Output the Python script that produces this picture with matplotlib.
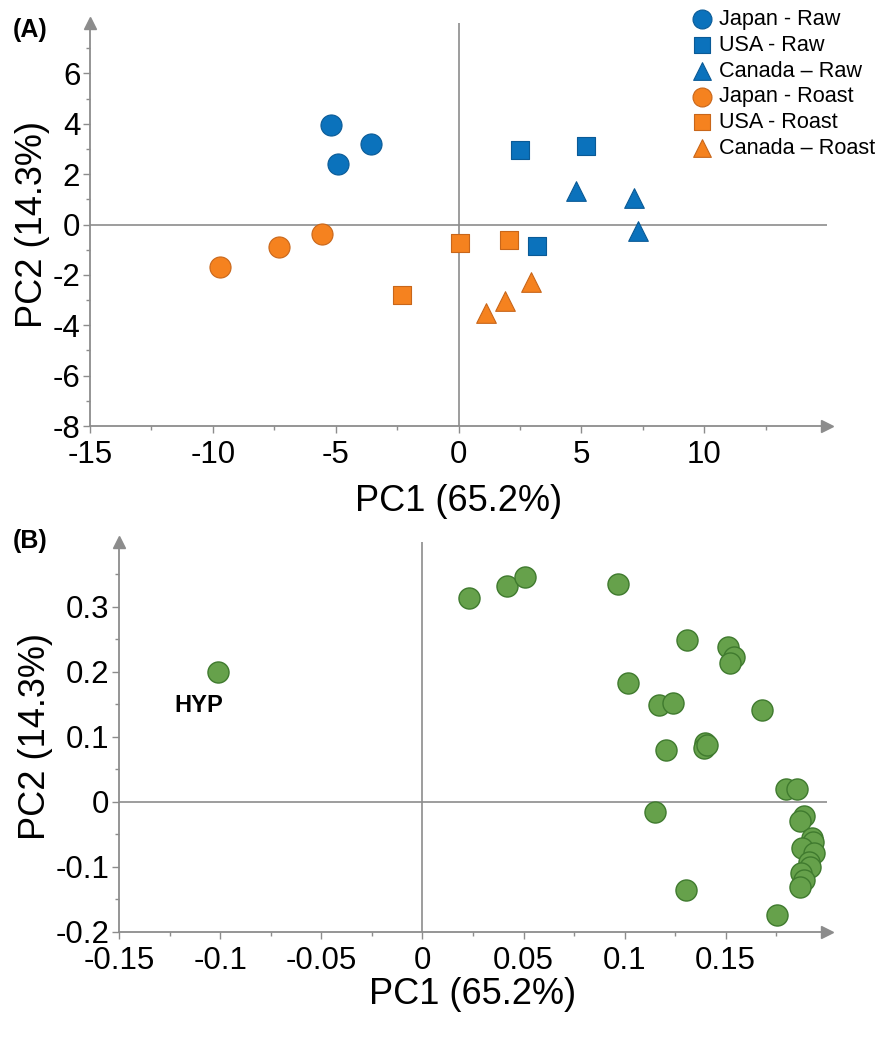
import numpy as np
import matplotlib.pyplot as plt
from matplotlib.ticker import FixedLocator

plt.rcParams['font.family'] = ['Liberation Sans', 'DejaVu Sans']
plt.rcParams['axes.unicode_minus'] = False

# PCA scores (panel A)
japan_raw_x = [-5.2, -4.9, -3.55]
japan_raw_y = [3.95, 2.4, 3.2]
usa_raw_x = [2.5, 5.2, 3.2]
usa_raw_y = [2.95, 3.1, -0.85]
canada_raw_x = [4.8, 7.13, 7.3]
canada_raw_y = [1.32, 1.06, -0.24]
japan_roast_x = [-9.7, -7.3, -5.55]
japan_roast_y = [-1.7, -0.9, -0.37]
usa_roast_x = [-2.3, 0.05, 2.05]
usa_roast_y = [-2.8, -0.73, -0.62]
canada_roast_x = [1.1, 1.91, 2.96]
canada_roast_y = [-3.5, -3.04, -2.29]

# PCA loadings (panel B)
load_x = [-0.101, 0.0232, 0.0417, 0.0506, 0.0965, 0.131, 0.1514, 0.154, 0.152,
          0.1015, 0.1168, 0.124, 0.168, 0.1204, 0.1397, 0.1393, 0.1406,
          0.18, 0.1854, 0.1151, 0.1887, 0.1866, 0.1925, 0.1932, 0.1876,
          0.1937, 0.1912, 0.1916, 0.1871, 0.1887, 0.1868, 0.1303, 0.1755]
load_y = [0.2, 0.314, 0.332, 0.345, 0.335, 0.249, 0.238, 0.222, 0.214,
          0.183, 0.149, 0.152, 0.141, 0.0795, 0.0908, 0.082, 0.088,
          0.019, 0.019, -0.016, -0.022, -0.030, -0.056, -0.062, -0.071,
          -0.079, -0.092, -0.101, -0.110, -0.121, -0.131, -0.136, -0.174]

BLUE = '#0B72BC'
BLUE_E = '#0A5A96'
ORANGE = '#F5821F'
ORANGE_E = '#C8661A'
GREEN = '#66A14B'
GREEN_E = '#3F7A2E'
GRAY = '#8C8C8C'

fig = plt.figure(figsize=(8.81, 10.41), dpi=100)
W, H = 881, 1041


def px_axes(l, r, t, b):
    return fig.add_axes([l / W, 1 - b / H, (r - l) / W, (b - t) / H])


def style_axes(ax, xmaj, xmin, ymaj, ymin):
    for s in ['top', 'right']:
        ax.spines[s].set_visible(False)
    for s in ['left', 'bottom']:
        ax.spines[s].set_color(GRAY)
        ax.spines[s].set_linewidth(1.3)
    ax.xaxis.set_major_locator(FixedLocator(xmaj))
    ax.xaxis.set_minor_locator(FixedLocator(xmin))
    ax.yaxis.set_major_locator(FixedLocator(ymaj))
    ax.yaxis.set_minor_locator(FixedLocator(ymin))
    ax.set_xticklabels([f'{v:g}' for v in xmaj])
    ax.set_yticklabels([f'{v:g}' for v in ymaj])
    ax.tick_params(which='major', length=5, width=1, color=GRAY, labelsize=22.5)
    ax.tick_params(axis='x', which='major', pad=5)
    ax.tick_params(axis='y', which='major', pad=2)
    ax.tick_params(which='minor', length=3, width=1, color=GRAY)
    ax.axhline(0, color=GRAY, lw=1.2, zorder=1)
    ax.axvline(0, color=GRAY, lw=1.2, zorder=1)
    ax.plot(1, 0, '>', color=GRAY, ms=8, transform=ax.transAxes, clip_on=False)
    ax.plot(0, 1, '^', color=GRAY, ms=8, transform=ax.transAxes, clip_on=False)


# Panel A: scores
ax1 = px_axes(90, 827, 23, 426)
ax1.set_xlim(-15, 15)
ax1.set_ylim(-8, 8)
style_axes(ax1, np.arange(-15, 11, 5), np.arange(-12.5, 15, 5),
           np.arange(-8, 7, 2), np.arange(-7, 8, 2))

groups = [
    (japan_raw_x, japan_raw_y, 'o', BLUE, BLUE_E, 'Japan - Raw', 230),
    (usa_raw_x, usa_raw_y, 's', BLUE, BLUE_E, 'USA - Raw', 170),
    (canada_raw_x, canada_raw_y, '^', BLUE, BLUE_E, 'Canada \u2013 Raw', 200),
    (japan_roast_x, japan_roast_y, 'o', ORANGE, ORANGE_E, 'Japan - Roast', 230),
    (usa_roast_x, usa_roast_y, 's', ORANGE, ORANGE_E, 'USA - Roast', 170),
    (canada_roast_x, canada_roast_y, '^', ORANGE, ORANGE_E, 'Canada \u2013 Roast', 200),
]
for gx, gy, m, fc, ec, lab, sz in groups:
    ax1.scatter(gx, gy, marker=m, s=sz, facecolor=fc, edgecolor=ec,
                linewidth=0.8, label=lab, zorder=3)

ax1.set_xlabel('PC1 (65.2%)', fontsize=26, labelpad=10)
ax1.set_ylabel('PC2 (14.3%)', fontsize=26, labelpad=2)

handles, labels = ax1.get_legend_handles_labels()
fig.legend(handles, labels, loc='upper left',
           bbox_to_anchor=(691 / W, 1 - 9 / H), bbox_transform=fig.transFigure,
           frameon=False, fontsize=15.6, handlelength=1.0, handletextpad=0.3,
           labelspacing=0.22, borderpad=0, borderaxespad=0, markerscale=0.9)

# Panel B: loadings
ax2 = px_axes(119.3, 826.7, 541.7, 931.7)
ax2.set_xlim(-0.15, 0.2)
ax2.set_ylim(-0.2, 0.4)
style_axes(ax2, np.round(np.arange(-0.15, 0.16, 0.05), 2),
           np.round(np.arange(-0.125, 0.19, 0.05), 3),
           np.round(np.arange(-0.2, 0.31, 0.1), 1),
           np.round(np.arange(-0.15, 0.36, 0.1), 2))
ax2.scatter(load_x, load_y, s=230, facecolor=GREEN, edgecolor=GREEN_E,
            linewidth=1.0, zorder=3)
ax2.annotate('HYP', (load_x[0], load_y[0]), xytext=(-14, -24),
             textcoords='offset points', ha='center', va='center',
             fontsize=17, fontweight='bold')
ax2.set_xlabel('PC1 (65.2%)', fontsize=26, labelpad=1)
ax2.set_ylabel('PC2 (14.3%)', fontsize=26, labelpad=2)

fig.text(13 / W, 1 - 30 / H, '(A)', fontsize=18, fontweight='bold', va='center')
fig.text(13 / W, 1 - 541 / H, '(B)', fontsize=18, fontweight='bold', va='center')

fig.savefig('out.png', dpi=100)
